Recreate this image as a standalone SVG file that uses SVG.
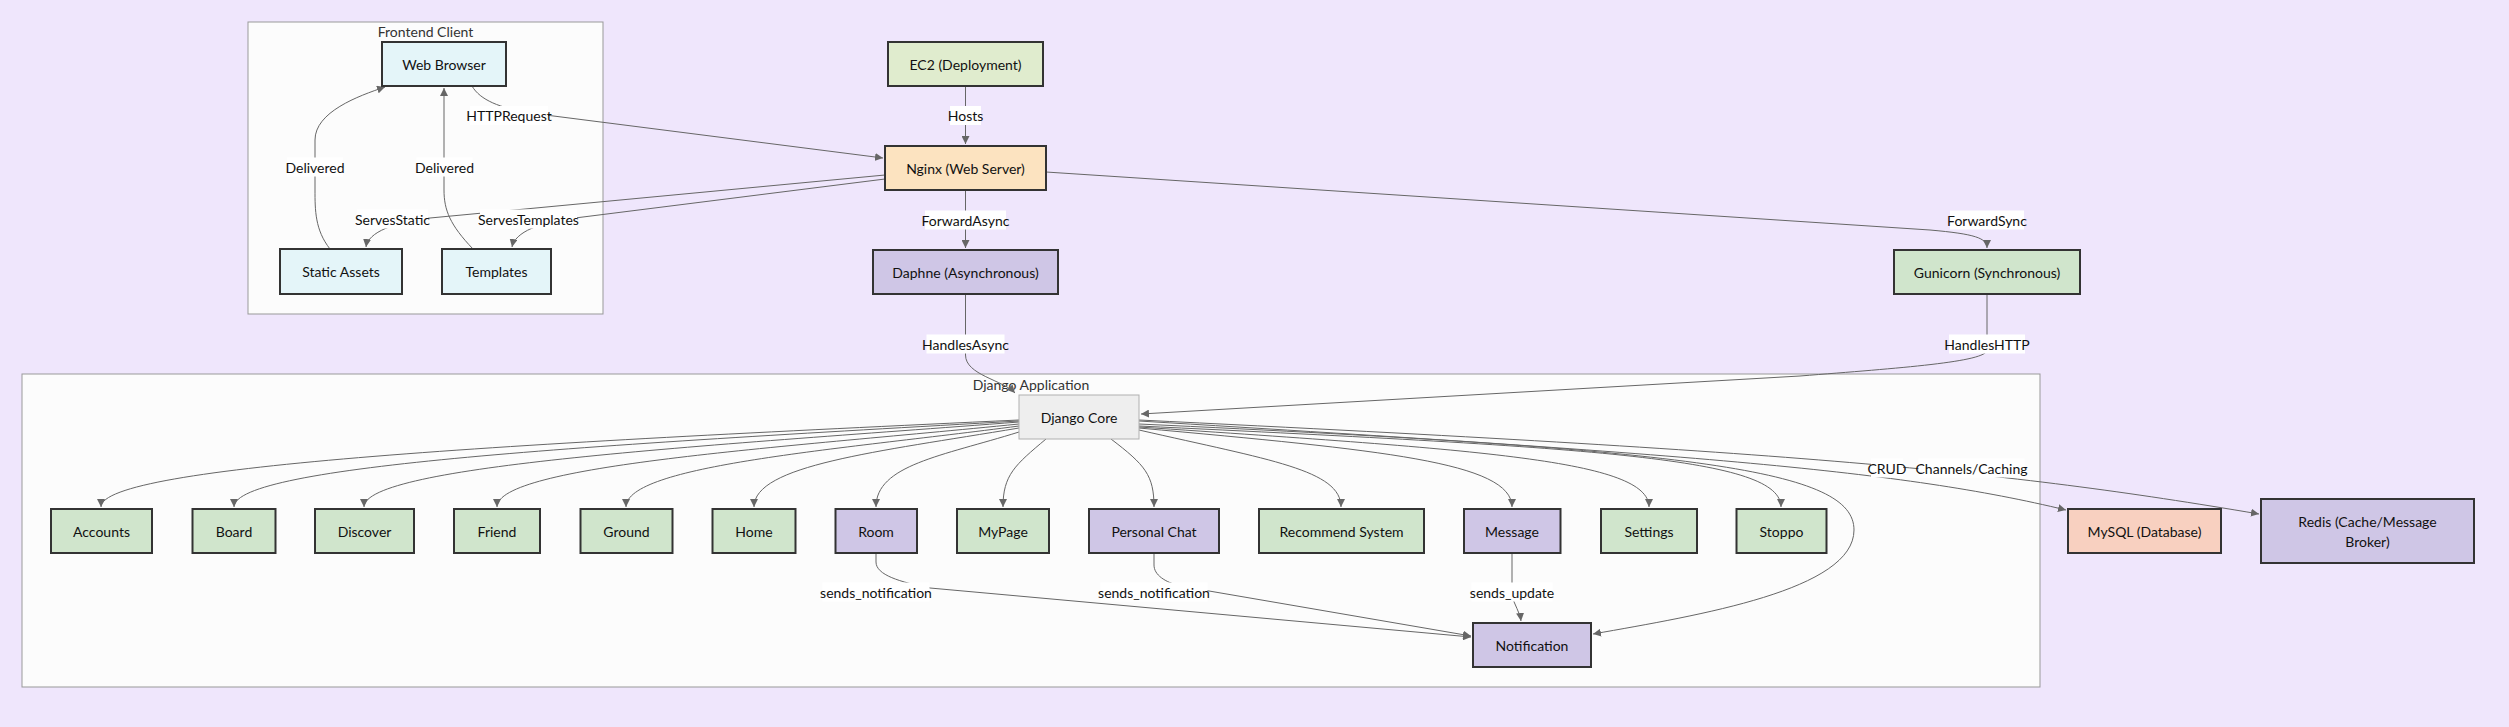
<svg xmlns="http://www.w3.org/2000/svg" width="2509" height="727" viewBox="0 0 2509 727">
<defs>
<marker id="arr" viewBox="0 0 10 10" refX="10" refY="5" markerUnits="userSpaceOnUse" markerWidth="8" markerHeight="8" orient="auto">
<path d="M0,0 L10,5 L0,10 z" fill="#666"/>
</marker>
</defs>
<style>
.bg{fill:#efe6fc}
.cl{fill:#fcfcfc;stroke:#999;stroke-width:1}
.ct{font-family:Lato,"Liberation Sans",sans-serif;font-size:14px;fill:#333;text-anchor:middle;dominant-baseline:central}
.n rect{stroke:#333;stroke-width:2}
.n text{font-family:Lato,"Liberation Sans",sans-serif;font-size:14px;fill:#111;text-anchor:middle;dominant-baseline:central}
.blue{fill:#e4f5f9}
.olive{fill:#e0ecce}
.peach{fill:#fce3c0}
.purp{fill:#cfc6e6}
.grn{fill:#d0e5cc}
.sal{fill:#f8d0c0}
#core rect{fill:#eeeeee;stroke:#b0b0b0;stroke-width:1}
.e path{fill:none;stroke:#666;stroke-width:1;marker-end:url(#arr)}
.lb rect{fill:#ffffff}
.lb text{font-family:Lato,"Liberation Sans",sans-serif;font-size:14px;fill:#111;text-anchor:middle;dominant-baseline:central}
</style>
<rect class="bg" x="0" y="0" width="2509" height="727"/>

<g id="clusters">
<g id="frontend-client">
<rect class="cl" x="248" y="22" width="355" height="292"/>
<text class="ct" x="425.5" y="31">Frontend Client</text>
</g>
<g id="django-application">
<rect class="cl" x="22" y="374" width="2018" height="313"/>
<text class="ct" x="1031" y="384">Django Application</text>
</g>
</g>

<g id="connectors" class="e">
<path d="M472,86 C480,100 500,108 530,113 L883,158"/>
<path d="M330,249 C315,230 315,210 315,190 L315,140 C315,112 358,96 385,87"/>
<path d="M473,249 C450,225 444,210 444,190 L444,88"/>
<path d="M885,175 L430,218 C395,222 368,232 366,247"/>
<path d="M885,179 L575,218 C540,222 515,232 512,247"/>
<path d="M965.5,86 L965.5,144"/>
<path d="M965.5,190 L965.5,248"/>
<path d="M1046,172 L1930,230 C1975,234 1987,238 1987,248"/>
<path d="M965.5,294 L965.5,355 C965.5,375 1003,380 1015,393"/>
<path d="M1987,294 L1987,350 C1987,362 1900,368 1800,376 L1141,414"/>
<path d="M1019,420 C523,443 101,465 101,507"/>
<path d="M1019,421 C595,445 234,465 234,507"/>
<path d="M1019,422 C706,446 364,465 364,507"/>
<path d="M1019,424 C780,448 497,465 497,507"/>
<path d="M1019,426 C837,450 626,465 626,507"/>
<path d="M1019,428 C876,452 754,465 754,507"/>
<path d="M1019,432 C942,456 876,465 876,507"/>
<path d="M1046,439 C1015,465 1003,475 1003,507"/>
<path d="M1111,439 C1145,465 1154,475 1154,507"/>
<path d="M1139,430 C1270,460 1341,470 1341,507"/>
<path d="M1139,428 C1380,450 1512,462 1512,507"/>
<path d="M1139,427 C1480,450 1649,460 1649,507"/>
<path d="M1139,426 C1600,448 1781,458 1781,507"/>
<path d="M1139,424 C1700,450 1854,470 1854,530 C1854,590 1700,615 1593,634"/>
<path d="M1139,421 C1700,455 1900,470 2066,510"/>
<path d="M1139,420 C1800,452 2000,470 2259,514"/>
<path d="M876,553 L876,562 C876,575 900,582 930,588 L1471,637"/>
<path d="M1154,553 L1154,565 C1154,575 1165,582 1180,586 L1471,636"/>
<path d="M1512,553 L1512,595 C1514,605 1520,612 1521,621"/>
</g>

<g id="edge-labels" class="lb">
<g><rect x="470" y="106" width="78" height="19"/><text x="509" y="115.5">HTTPRequest</text></g>
<g><rect x="287" y="157.5" width="56" height="19"/><text x="315" y="167">Delivered</text></g>
<g><rect x="416.5" y="157.5" width="56" height="19"/><text x="444.5" y="167">Delivered</text></g>
<g><rect x="357" y="209.5" width="71" height="19"/><text x="392.5" y="219">ServesStatic</text></g>
<g><rect x="480" y="209.5" width="97" height="19"/><text x="528.5" y="219">ServesTemplates</text></g>
<g><rect x="950" y="106" width="31" height="19"/><text x="965.5" y="115.5">Hosts</text></g>
<g><rect x="925" y="210.5" width="81" height="19"/><text x="965.5" y="220">ForwardAsync</text></g>
<g><rect x="926.5" y="334.5" width="78" height="19"/><text x="965.5" y="344">HandlesAsync</text></g>
<g><rect x="1950" y="210.5" width="74" height="19"/><text x="1987" y="220">ForwardSync</text></g>
<g><rect x="1949" y="334.5" width="76" height="19"/><text x="1987" y="344">HandlesHTTP</text></g>
<g><rect x="822.5" y="582.5" width="107" height="19"/><text x="876" y="592">sends_notification</text></g>
<g><rect x="1100.5" y="582.5" width="107" height="19"/><text x="1154" y="592">sends_notification</text></g>
<g><rect x="1471.5" y="582.5" width="81" height="19"/><text x="1512" y="592">sends_update</text></g>
<g><rect x="1871" y="458.5" width="32" height="19"/><text x="1887" y="468">CRUD</text></g>
<g><rect x="1918.5" y="458.5" width="106" height="19"/><text x="1971.5" y="468">Channels/Caching</text></g>
</g>

<g id="web-browser" class="n"><rect class="blue" x="382" y="42" width="124" height="44"/><text x="444" y="64">Web Browser</text></g>
<g id="static-assets" class="n"><rect class="blue" x="280" y="249" width="122" height="45"/><text x="341" y="271.5">Static Assets</text></g>
<g id="templates" class="n"><rect class="blue" x="442" y="249" width="109" height="45"/><text x="496.5" y="271.5">Templates</text></g>
<g id="ec2" class="n"><rect class="olive" x="888" y="42" width="155" height="44"/><text x="965.5" y="64">EC2 (Deployment)</text></g>
<g id="nginx" class="n"><rect class="peach" x="885" y="146" width="161" height="44"/><text x="965.5" y="168">Nginx (Web Server)</text></g>
<g id="daphne" class="n"><rect class="purp" x="873" y="250" width="185" height="44"/><text x="965.5" y="272">Daphne (Asynchronous)</text></g>
<g id="gunicorn" class="n"><rect class="grn" x="1894" y="250" width="186" height="44"/><text x="1987" y="272">Gunicorn (Synchronous)</text></g>
<g id="core" class="n"><rect x="1019" y="395" width="120" height="44"/><text x="1079" y="417">Django Core</text></g>
<g id="accounts" class="n"><rect class="grn" x="51" y="509" width="101" height="44"/><text x="101.5" y="531">Accounts</text></g>
<g id="board" class="n"><rect class="grn" x="192.5" y="509" width="83" height="44"/><text x="234" y="531">Board</text></g>
<g id="discover" class="n"><rect class="grn" x="315" y="509" width="99" height="44"/><text x="364.5" y="531">Discover</text></g>
<g id="friend" class="n"><rect class="grn" x="454" y="509" width="86" height="44"/><text x="497" y="531">Friend</text></g>
<g id="ground" class="n"><rect class="grn" x="580.5" y="509" width="92" height="44"/><text x="626.5" y="531">Ground</text></g>
<g id="home" class="n"><rect class="grn" x="712.5" y="509" width="83" height="44"/><text x="754" y="531">Home</text></g>
<g id="room" class="n"><rect class="purp" x="835.5" y="509" width="81.5" height="44"/><text x="876" y="531">Room</text></g>
<g id="mypage" class="n"><rect class="grn" x="957" y="509" width="92" height="44"/><text x="1003" y="531">MyPage</text></g>
<g id="personal-chat" class="n"><rect class="purp" x="1089" y="509" width="130" height="44"/><text x="1154" y="531">Personal Chat</text></g>
<g id="recommend-system" class="n"><rect class="grn" x="1259" y="509" width="165" height="44"/><text x="1341.5" y="531">Recommend System</text></g>
<g id="message" class="n"><rect class="purp" x="1464" y="509" width="96.5" height="44"/><text x="1512" y="531">Message</text></g>
<g id="settings" class="n"><rect class="grn" x="1601" y="509" width="96" height="44"/><text x="1649" y="531">Settings</text></g>
<g id="stoppo" class="n"><rect class="grn" x="1736.5" y="509" width="90" height="44"/><text x="1781.5" y="531">Stoppo</text></g>
<g id="notification" class="n"><rect class="purp" x="1473" y="623" width="118" height="44"/><text x="1532" y="645">Notification</text></g>
<g id="mysql" class="n"><rect class="sal" x="2068" y="509" width="153" height="44"/><text x="2144.5" y="531">MySQL (Database)</text></g>
<g id="redis" class="n"><rect class="purp" x="2261" y="499" width="213" height="64"/><text x="2367.5" y="521">Redis (Cache/Message</text><text x="2367.5" y="541">Broker)</text></g>
</svg>
